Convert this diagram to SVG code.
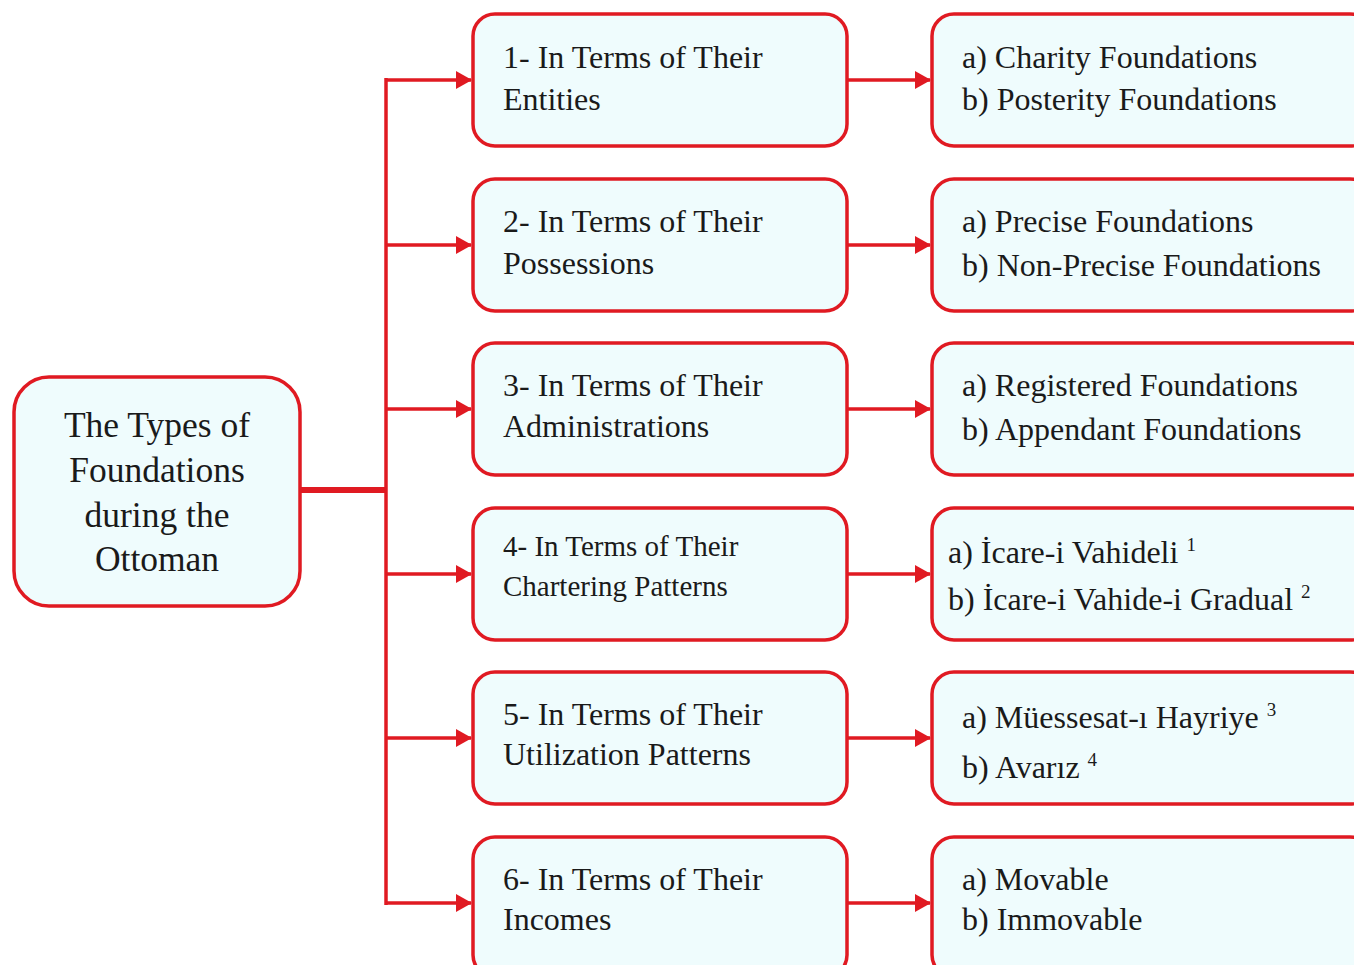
<svg xmlns="http://www.w3.org/2000/svg" width="1354" height="965" viewBox="0 0 1354 965">
<style>
.box{fill:#effcfd;stroke:#e01a22;stroke-width:3.5}
.t{font-family:"Liberation Serif","DejaVu Serif",serif;fill:#1a1a1a;font-size:32px}
.s{font-size:29px}
.c{text-anchor:middle;font-size:35.5px}
.sup{font-size:19px}
.ln{stroke:#e01a22;stroke-width:3.5;fill:none}
</style>
<defs>
<marker id="ah" markerUnits="userSpaceOnUse" markerWidth="16" markerHeight="18" refX="15" refY="9" orient="auto">
<path d="M0,0 L16,9 L0,18 Z" fill="#e01a22"/>
</marker>
</defs>
<rect width="1354" height="965" fill="#ffffff"/>
<g id="connectors">
<line class="ln" x1="300" y1="490" x2="386" y2="490" style="stroke-width:6"/>
<line class="ln" x1="386" y1="78" x2="386" y2="905"/>
<line class="ln" x1="386" y1="80" x2="471" y2="80" marker-end="url(#ah)"/>
<line class="ln" x1="386" y1="245" x2="471" y2="245" marker-end="url(#ah)"/>
<line class="ln" x1="386" y1="409" x2="471" y2="409" marker-end="url(#ah)"/>
<line class="ln" x1="386" y1="574" x2="471" y2="574" marker-end="url(#ah)"/>
<line class="ln" x1="386" y1="738" x2="471" y2="738" marker-end="url(#ah)"/>
<line class="ln" x1="386" y1="903" x2="471" y2="903" marker-end="url(#ah)"/>
<line class="ln" x1="847" y1="80" x2="930" y2="80" marker-end="url(#ah)"/>
<line class="ln" x1="847" y1="245" x2="930" y2="245" marker-end="url(#ah)"/>
<line class="ln" x1="847" y1="409" x2="930" y2="409" marker-end="url(#ah)"/>
<line class="ln" x1="847" y1="574" x2="930" y2="574" marker-end="url(#ah)"/>
<line class="ln" x1="847" y1="738" x2="930" y2="738" marker-end="url(#ah)"/>
<line class="ln" x1="847" y1="903" x2="930" y2="903" marker-end="url(#ah)"/>
</g>
<g id="root">
<rect class="box" x="14" y="377" width="286" height="229" rx="35"/>
<text class="t c" x="157" y="437">The Types of</text>
<text class="t c" x="157" y="482">Foundations</text>
<text class="t c" x="157" y="527">during the</text>
<text class="t c" x="157" y="571">Ottoman</text>
</g>
<g id="m1">
<rect class="box" x="473" y="14" width="374" height="132" rx="22"/>
<text class="t" x="503" y="68">1- In Terms of Their</text>
<text class="t" x="503" y="110">Entities</text>
</g>
<g id="m2">
<rect class="box" x="473" y="179" width="374" height="132" rx="22"/>
<text class="t" x="503" y="232">2- In Terms of Their</text>
<text class="t" x="503" y="274">Possessions</text>
</g>
<g id="m3">
<rect class="box" x="473" y="343" width="374" height="132" rx="22"/>
<text class="t" x="503" y="396">3- In Terms of Their</text>
<text class="t" x="503" y="437">Administrations</text>
</g>
<g id="m4">
<rect class="box" x="473" y="508" width="374" height="132" rx="22"/>
<text class="t s" x="503" y="556">4- In Terms of Their</text>
<text class="t s" x="503" y="596">Chartering Patterns</text>
</g>
<g id="m5">
<rect class="box" x="473" y="672" width="374" height="132" rx="22"/>
<text class="t" x="503" y="725">5- In Terms of Their</text>
<text class="t" x="503" y="765">Utilization Patterns</text>
</g>
<g id="m6">
<rect class="box" x="473" y="837" width="374" height="140" rx="22"/>
<text class="t" x="503" y="890">6- In Terms of Their</text>
<text class="t" x="503" y="930">Incomes</text>
</g>
<g id="r1">
<rect class="box" x="932" y="14" width="440" height="132" rx="22"/>
<text class="t" x="962" y="68">a) Charity Foundations</text>
<text class="t" x="962" y="110">b) Posterity Foundations</text>
</g>
<g id="r2">
<rect class="box" x="932" y="179" width="440" height="132" rx="22"/>
<text class="t" x="962" y="232">a) Precise Foundations</text>
<text class="t" x="962" y="276">b) Non-Precise Foundations</text>
</g>
<g id="r3">
<rect class="box" x="932" y="343" width="440" height="132" rx="22"/>
<text class="t" x="962" y="396">a) Registered Foundations</text>
<text class="t" x="962" y="440">b) Appendant Foundations</text>
</g>
<g id="r4">
<rect class="box" x="932" y="508" width="440" height="132" rx="22"/>
<text class="t" x="948" y="563">a) İcare-i Vahideli <tspan class="sup" dy="-12">1</tspan></text>
<text class="t" x="948" y="610">b) İcare-i Vahide-i Gradual <tspan class="sup" dy="-12">2</tspan></text>
</g>
<g id="r5">
<rect class="box" x="932" y="672" width="440" height="132" rx="22"/>
<text class="t" x="962" y="728">a) Müessesat-ı Hayriye <tspan class="sup" dy="-12">3</tspan></text>
<text class="t" x="962" y="778">b) Avarız <tspan class="sup" dy="-12">4</tspan></text>
</g>
<g id="r6">
<rect class="box" x="932" y="837" width="440" height="140" rx="22"/>
<text class="t" x="962" y="890">a) Movable</text>
<text class="t" x="962" y="930">b) Immovable</text>
</g>
</svg>
